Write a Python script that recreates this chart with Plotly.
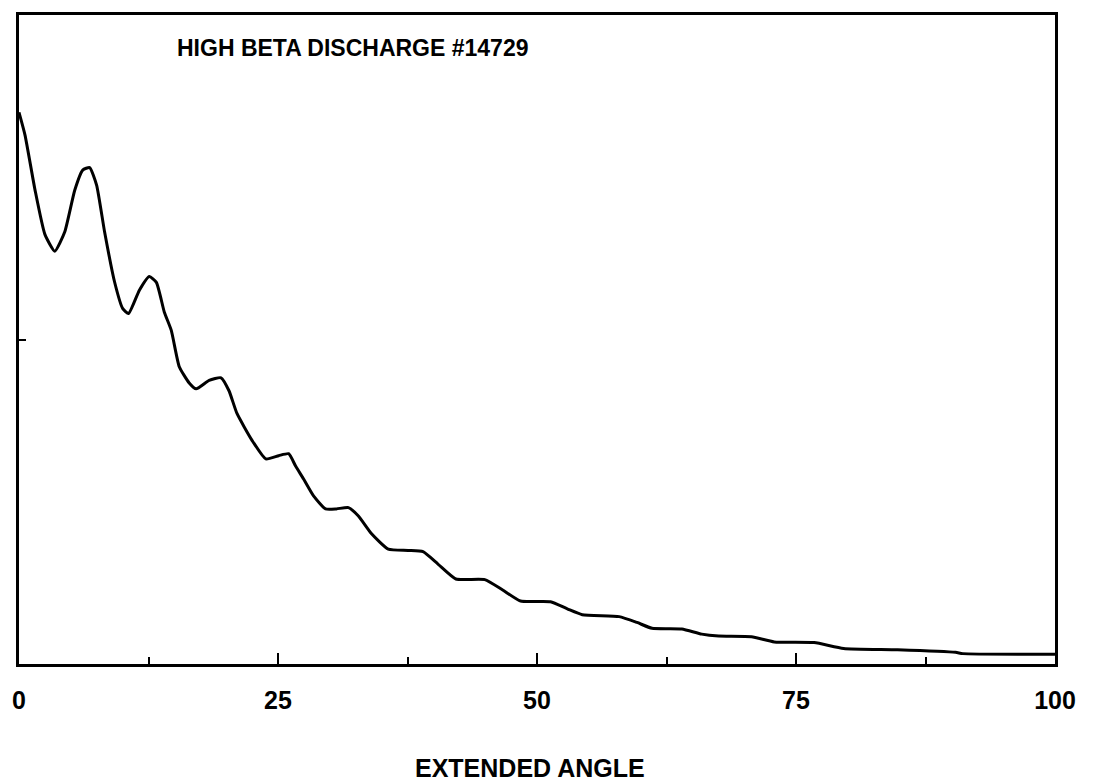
import plotly.graph_objects as go

# Extended angle (x) and signal (arbitrary units, 0-100 of plot height)
angle = [0.0, 0.58, 1.54, 2.50, 3.46, 4.42, 5.38, 6.15, 6.82, 7.49, 8.26, 9.22, 10.0, 10.57,
         11.62, 12.58, 13.26, 14.03, 14.70, 15.47, 16.43, 17.10, 18.35, 19.50, 20.27, 21.04,
         22.48, 23.82, 25.07, 26.03, 26.70, 27.47, 28.43, 29.59, 30.64, 31.80, 32.76, 34.01,
         35.64, 37.56, 39.0, 40.44, 42.17, 44.96, 46.69, 48.41, 51.30, 52.93, 54.37, 57.93,
         59.65, 61.1, 63.98, 65.9, 67.53, 70.7, 72.9, 76.75, 79.6, 84.8, 90.4, 91.1, 100.0]
signal = [85.0, 81.5, 73.1, 66.2, 63.6, 66.6, 73.0, 76.1, 76.5, 73.8, 66.6, 58.9, 54.8, 54.0,
          57.6, 59.7, 58.8, 54.2, 51.4, 45.8, 43.3, 42.4, 43.7, 44.1, 42.1, 38.6,
          34.5, 31.6, 32.1, 32.4, 30.5, 28.5, 25.9, 23.9, 23.9, 24.1, 22.8, 20.1,
          17.7, 17.5, 17.3, 15.4, 13.1, 13.0, 11.4, 9.7, 9.6, 8.5, 7.6, 7.3,
          6.4, 5.5, 5.4, 4.6, 4.3, 4.2, 3.4, 3.3, 2.4, 2.2, 1.8, 1.6, 1.5]

x_tickvals = [0, 25, 50, 75, 100]
x_ticktext = ["0", "25", "50", "75", "100"]
title_text = "HIGH BETA DISCHARGE #14729"
x_title = "EXTENDED ANGLE"

fig = go.Figure()
fig.add_trace(go.Scatter(
    x=angle, y=signal, mode="lines",
    line=dict(color="black", width=3, shape="spline", smoothing=0.5),
    showlegend=False, hoverinfo="skip",
))

fig.update_layout(
    width=1093, height=781,
    margin=dict(l=14, r=38, t=12, b=117),
    paper_bgcolor="white", plot_bgcolor="white",
    font=dict(family="Liberation Sans, Arial, sans-serif", color="black"),
    annotations=[
        dict(
            text=title_text, xref="paper", yref="paper",
            x=0.151, y=0.949, xanchor="left", yanchor="middle",
            showarrow=False,
            font=dict(size=23, weight="bold", color="black"),
        ),
        dict(
            text=x_title, xref="paper", yref="paper",
            x=0.493, y=-0.16, xanchor="center", yanchor="middle",
            showarrow=False,
            font=dict(size=25, weight="bold", color="black"),
        ),
    ],
)

fig.update_xaxes(
    range=[0, 100], showgrid=False, zeroline=False,
    showline=True, linecolor="black", linewidth=3, mirror=True,
    tickvals=x_tickvals, ticktext=x_ticktext,
    ticks="inside", ticklen=11, tickwidth=2, tickcolor="black",
    minor=dict(dtick=12.5, tick0=0, ticks="inside", ticklen=7, tickwidth=2, tickcolor="black"),
    tickfont=dict(size=25, weight="bold", color="black"),
    ticklabelstandoff=12,
)
fig.update_yaxes(
    range=[0, 100], showgrid=False, zeroline=False,
    showline=True, linecolor="black", linewidth=3, mirror=True,
    tickvals=[50], ticktext=[""], ticks="inside", ticklen=7, tickwidth=2, tickcolor="black",
    showticklabels=False,
)

fig.write_html("out.html")
